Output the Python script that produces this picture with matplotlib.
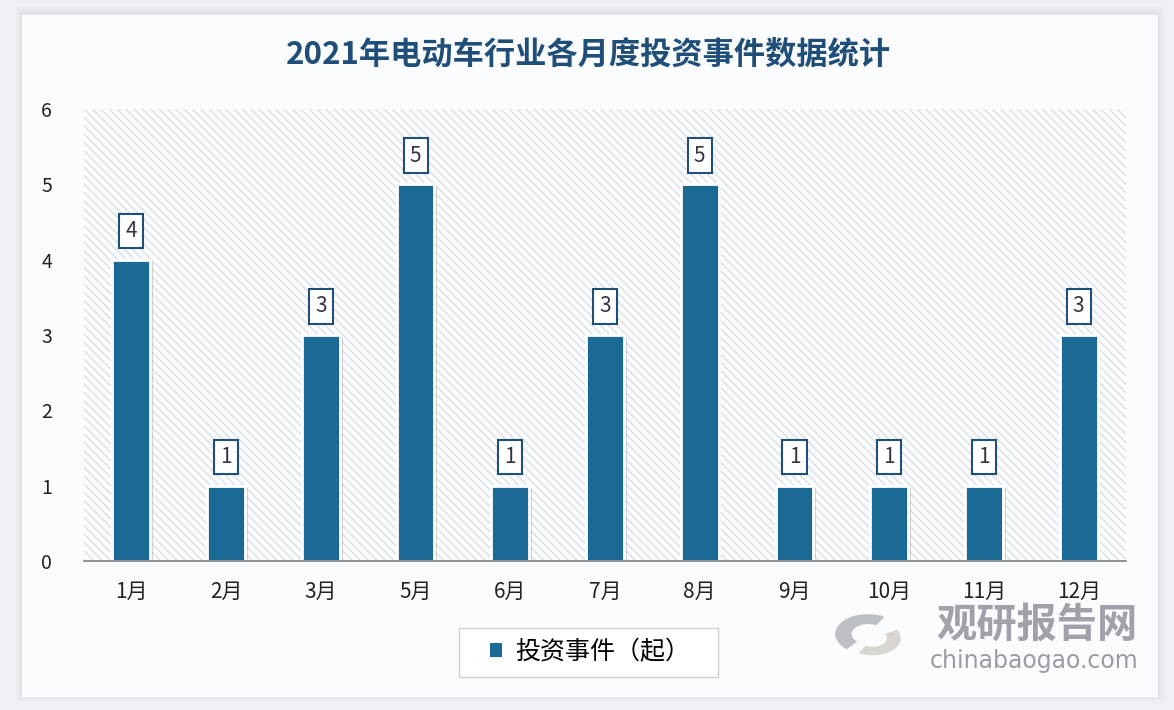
import matplotlib
matplotlib.use("Agg")
import matplotlib.pyplot as plt
from matplotlib.patches import FancyBboxPatch, Rectangle, Wedge
import matplotlib.patheffects as pe

plt.rcParams['font.family'] = ['Noto Sans CJK SC', 'DejaVu Sans']
plt.rcParams['hatch.color'] = '#d9dcdf'
plt.rcParams['hatch.linewidth'] = 0.9

months = ['1月', '2月', '3月', '5月', '6月', '7月', '8月', '9月', '10月', '11月', '12月']
events = [4, 1, 3, 5, 1, 3, 5, 1, 1, 1, 3]
series_name = '投资事件（起）'
title = '2021年电动车行业各月度投资事件数据统计'
y_ticks = [0, 1, 2, 3, 4, 5, 6]

bar_color = '#1b6a96'
title_color = '#1f4e79'

fig = plt.figure(figsize=(11.74, 7.10), dpi=100)
fig.patch.set_facecolor('#eef0f3')

# card with soft shadow
for i, a in enumerate([0.04, 0.05, 0.06]):
    d = (3 - i) * 2
    fig.add_artist(FancyBboxPatch((22 / 1174 - d / 1174, 15 / 710 - d / 710),
                                  (1136 + 2 * d) / 1174, (682 + 2 * d) / 710,
                                  boxstyle='square,pad=0', transform=fig.transFigure,
                                  facecolor='#9aa0a8', edgecolor='none', alpha=a, zorder=-2))
fig.add_artist(Rectangle((22 / 1174, 1 - 697 / 710), 1136 / 1174, 682 / 710,
                         transform=fig.transFigure, facecolor='#fbfcfe',
                         edgecolor='none', zorder=-1))

ax = fig.add_axes([84 / 1174, 1 - 561 / 710, (1126 - 84) / 1174, (561 - 109) / 710])
ax.set_zorder(2)
ax.set_facecolor('#fbfcfe')
ax.add_patch(Rectangle((0, 0), 1, 1, transform=ax.transAxes, facecolor='none',
                       edgecolor='#d9dcdf', hatch='\\\\\\\\', linewidth=0, zorder=0))

x = list(range(len(months)))
bars = ax.bar(x, events, width=0.40, color=bar_color, edgecolor='white', linewidth=2.0,
              zorder=3)
for b in bars:
    b.set_path_effects([pe.SimplePatchShadow(offset=(2, -2), shadow_rgbFace='#888888', alpha=0.35),
                        pe.Normal()])

for xi, v in zip(x, events):
    ax.text(xi, v + 0.38, f'{v}', ha='center', va='center', fontsize=15, fontweight='medium',
            color='#333344', zorder=5,
            bbox=dict(boxstyle='square,pad=0.3', facecolor='white', edgecolor=title_color,
                      linewidth=1.5))

ax.set_xlim(-0.5, len(months) - 0.5)
ax.set_ylim(0, 6)
ax.set_yticks(y_ticks)
ax.set_yticklabels([str(t) for t in y_ticks], fontsize=14, color='#222222')
ax.set_xticks(x)
ax.set_xticklabels(months, fontsize=15, color='#222222')
ax.tick_params(axis='y', length=0, pad=23)
ax.tick_params(axis='x', length=0, pad=14)
for s in ['top', 'right', 'left']:
    ax.spines[s].set_visible(False)
ax.spines['bottom'].set_color('#808080')
ax.spines['bottom'].set_linewidth(1.2)
ax.spines['bottom'].set_zorder(4)

fig.text(588 / 1174, 1 - 55 / 710, title, ha='center', va='center', fontsize=22.5,
         fontweight='bold', color=title_color)

# legend frame
fig.add_artist(Rectangle((459 / 1174, 1 - 677 / 710), (718 - 459) / 1174, (677 - 628) / 710,
                         transform=fig.transFigure, facecolor='white', edgecolor='#d0d0d0',
                         linewidth=1.0, zorder=3))
leg = fig.legend([Rectangle((0, 0), 1, 1, facecolor=bar_color)], [series_name],
                 loc='center', bbox_to_anchor=(590 / 1174, 1 - 652 / 710),
                 fontsize=18, frameon=False,
                 handlelength=0.5, handleheight=0.5, handletextpad=0.5,
                 borderpad=0.3, borderaxespad=0)
leg.set_zorder(4)

# watermark
wx, wy = 868 / 1174, 1 - 634 / 710
fig.add_artist(Wedge((wx, wy), 0.028, 60, 230, width=0.014, transform=fig.transFigure,
                     facecolor='#b3b7bd', edgecolor='none', alpha=0.85, zorder=6))
fig.add_artist(Wedge((wx + 0.004, wy - 0.006), 0.024, 240, 30, width=0.012, transform=fig.transFigure,
                     facecolor='#d3d0cb', edgecolor='none', alpha=0.85, zorder=6))
fig.text(1037 / 1174, 1 - 625 / 710, '观研报告网', ha='center', va='center', fontsize=29,
         fontweight='bold', color='#8f9299', alpha=0.85, zorder=6)
fig.text(1034 / 1174, 1 - 661 / 710, 'chinabaogao.com', ha='center', va='center',
         fontsize=17, color='#8f9299', alpha=0.9, zorder=6, family='DejaVu Sans')

fig.savefig('out.png', dpi=100, facecolor=fig.get_facecolor())
